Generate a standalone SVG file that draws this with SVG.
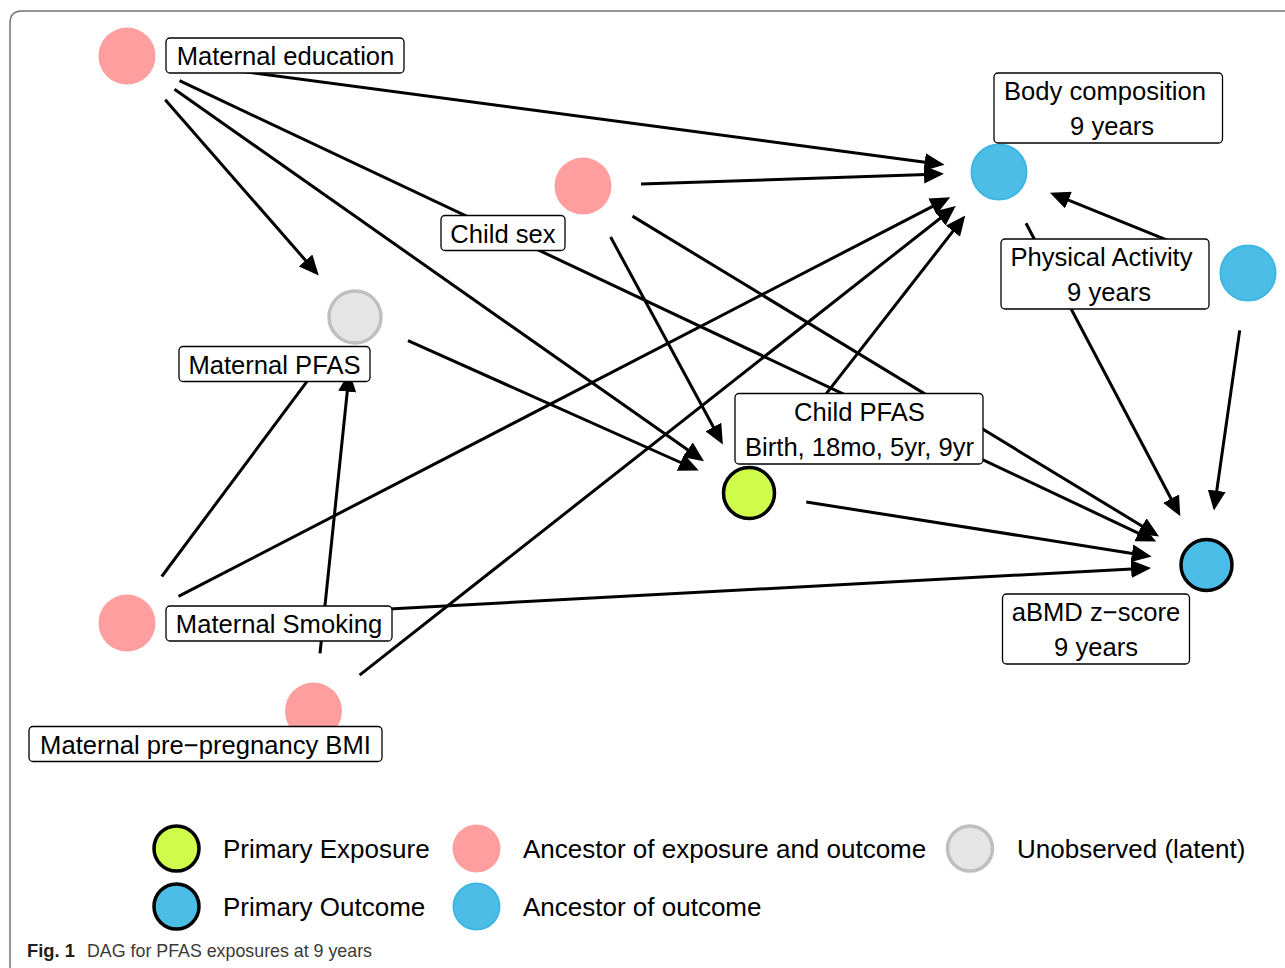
<svg xmlns="http://www.w3.org/2000/svg" width="1285" height="968" viewBox="0 0 1285 968">
<style>
.lbl{fill:#fff;stroke:#000;stroke-width:1.3}
.t{font-family:"Liberation Sans",Arial,Helvetica,sans-serif;font-size:25.6px;fill:#000;text-anchor:middle}
.lg{font-family:"Liberation Sans",Arial,Helvetica,sans-serif;font-size:26px;fill:#000}
.pink{fill:#ff9e9e}
.blue{fill:#4bbde7;stroke:#3fb6e2;stroke-width:2}
.outc{fill:#4bbde7;stroke:#000;stroke-width:3.5}
.expo{fill:#cffb4a;stroke:#000;stroke-width:3.5}
.lat{fill:#e5e5e5;stroke:#bfbfbf;stroke-width:3.5}
#edges line{stroke:#000;stroke-width:3;marker-end:url(#ah)}
</style>
<defs>
<marker id="ah" viewBox="0 0 20 18" refX="10" refY="9" markerWidth="20" markerHeight="18" markerUnits="userSpaceOnUse" orient="auto">
<path d="M0,0 L20,9 L0,18 z" fill="#000"/>
</marker>
</defs>
<rect width="1285" height="968" fill="#fff"/>
<path d="M10,990 V23 Q10,11 22,11 H1300" fill="none" stroke="#737373" stroke-width="1.5"/>

<g id="edges">
<line x1="184.5" y1="63.7" x2="934.6" y2="163.4"/>
<line x1="179.5" y1="80.7" x2="1147.2" y2="537.3"/>
<line x1="174.5" y1="89.3" x2="695.8" y2="455.6"/>
<line x1="165.2" y1="99.7" x2="312.2" y2="268"/>
<line x1="641" y1="184.1" x2="934" y2="174.2"/>
<line x1="632.5" y1="216.1" x2="1150.5" y2="531.2"/>
<line x1="610.6" y1="237" x2="718.1" y2="435.8"/>
<line x1="408" y1="340.7" x2="689.6" y2="466.5"/>
<line x1="806.3" y1="502" x2="1141.8" y2="554.9"/>
<line x1="784.6" y1="447.2" x2="959.1" y2="223.3"/>
<line x1="178.5" y1="596.4" x2="941.3" y2="201.9"/>
<line x1="184.9" y1="619.9" x2="1141.1" y2="568.5"/>
<line x1="161.7" y1="576.5" x2="316.2" y2="369.1"/>
<line x1="359.6" y1="675.1" x2="947.9" y2="212.2"/>
<line x1="320" y1="653.3" x2="348.3" y2="381.7"/>
<line x1="1026" y1="223.3" x2="1175.7" y2="507.5"/>
<line x1="1194.3" y1="251.2" x2="1059.2" y2="196.4"/>
<line x1="1239.7" y1="330.4" x2="1215.3" y2="500.7"/>
</g>

<g id="node-maternal-education">
<circle class="pink" cx="127" cy="56" r="28.5"/>
<rect class="lbl" x="166" y="38" width="238" height="35" rx="4"/>
<text class="t" x="285.5" y="64.5">Maternal education</text>
</g>
<g id="node-child-sex">
<circle class="pink" cx="583" cy="186" r="28.5"/>
<rect class="lbl" x="441" y="215.5" width="124" height="35" rx="4"/>
<text class="t" x="503" y="242.5">Child sex</text>
</g>
<g id="node-maternal-pfas">
<circle class="lat" cx="355" cy="317" r="26"/>
<rect class="lbl" x="179" y="346.5" width="191" height="35" rx="4"/>
<text class="t" x="274.5" y="373.5">Maternal PFAS</text>
</g>
<g id="node-child-pfas">
<circle class="expo" cx="749" cy="493" r="25.5"/>
<rect class="lbl" x="735" y="393.5" width="248" height="70.5" rx="4"/>
<text class="t" x="859.5" y="420.5">Child PFAS</text>
<text class="t" x="859.5" y="455.5">Birth, 18mo, 5yr, 9yr</text>
</g>
<g id="node-body-composition">
<circle class="blue" cx="999" cy="172" r="27.5"/>
<rect class="lbl" x="994" y="73" width="228.5" height="70" rx="4"/>
<text class="t" x="1105" y="100">Body composition</text>
<text class="t" x="1112" y="135">9 years</text>
</g>
<g id="node-physical-activity">
<circle class="blue" cx="1248" cy="273" r="27.5"/>
<rect class="lbl" x="1001" y="239" width="208" height="70" rx="4"/>
<text class="t" x="1101.5" y="266">Physical Activity</text>
<text class="t" x="1109" y="300.5">9 years</text>
</g>
<g id="node-abmd">
<circle class="outc" cx="1206.5" cy="565" r="25.5"/>
<rect class="lbl" x="1002.5" y="594" width="187" height="70" rx="4"/>
<text class="t" x="1096" y="620.5">aBMD z−score</text>
<text class="t" x="1096" y="655.5">9 years</text>
</g>
<g id="node-maternal-smoking">
<circle class="pink" cx="127" cy="623" r="28.5"/>
<rect class="lbl" x="166" y="606" width="226" height="35" rx="4"/>
<text class="t" x="279" y="632.5">Maternal Smoking</text>
</g>
<g id="node-maternal-bmi">
<circle class="pink" cx="313.5" cy="711" r="28.5"/>
<rect class="lbl" x="29" y="726.5" width="353" height="35" rx="4"/>
<text class="t" x="205.5" y="753.5">Maternal pre−pregnancy BMI</text>
</g>

<g id="legend">
<circle class="expo" cx="176.5" cy="848.5" r="22.5"/>
<text class="lg" x="223" y="858">Primary Exposure</text>
<circle class="outc" cx="176.5" cy="906.5" r="22.5"/>
<text class="lg" x="223" y="916">Primary Outcome</text>
<circle class="pink" cx="476.5" cy="848.5" r="24"/>
<text class="lg" x="523" y="858">Ancestor of exposure and outcome</text>
<circle class="blue" cx="476.5" cy="906.5" r="23"/>
<text class="lg" x="523" y="916">Ancestor of outcome</text>
<circle class="lat" cx="970" cy="848.5" r="22.5"/>
<text class="lg" x="1017" y="858">Unobserved (latent)</text>
</g>

<g id="caption">
<text x="27" y="957" font-family="'Liberation Sans',Arial,sans-serif" font-size="19" font-weight="bold" fill="#231f20" textLength="48" lengthAdjust="spacingAndGlyphs">Fig. 1</text>
<text x="87" y="957" font-family="'Liberation Sans',Arial,sans-serif" font-size="19" fill="#3a3a3a" textLength="285" lengthAdjust="spacingAndGlyphs">DAG for PFAS exposures at 9 years</text>
</g>
</svg>
